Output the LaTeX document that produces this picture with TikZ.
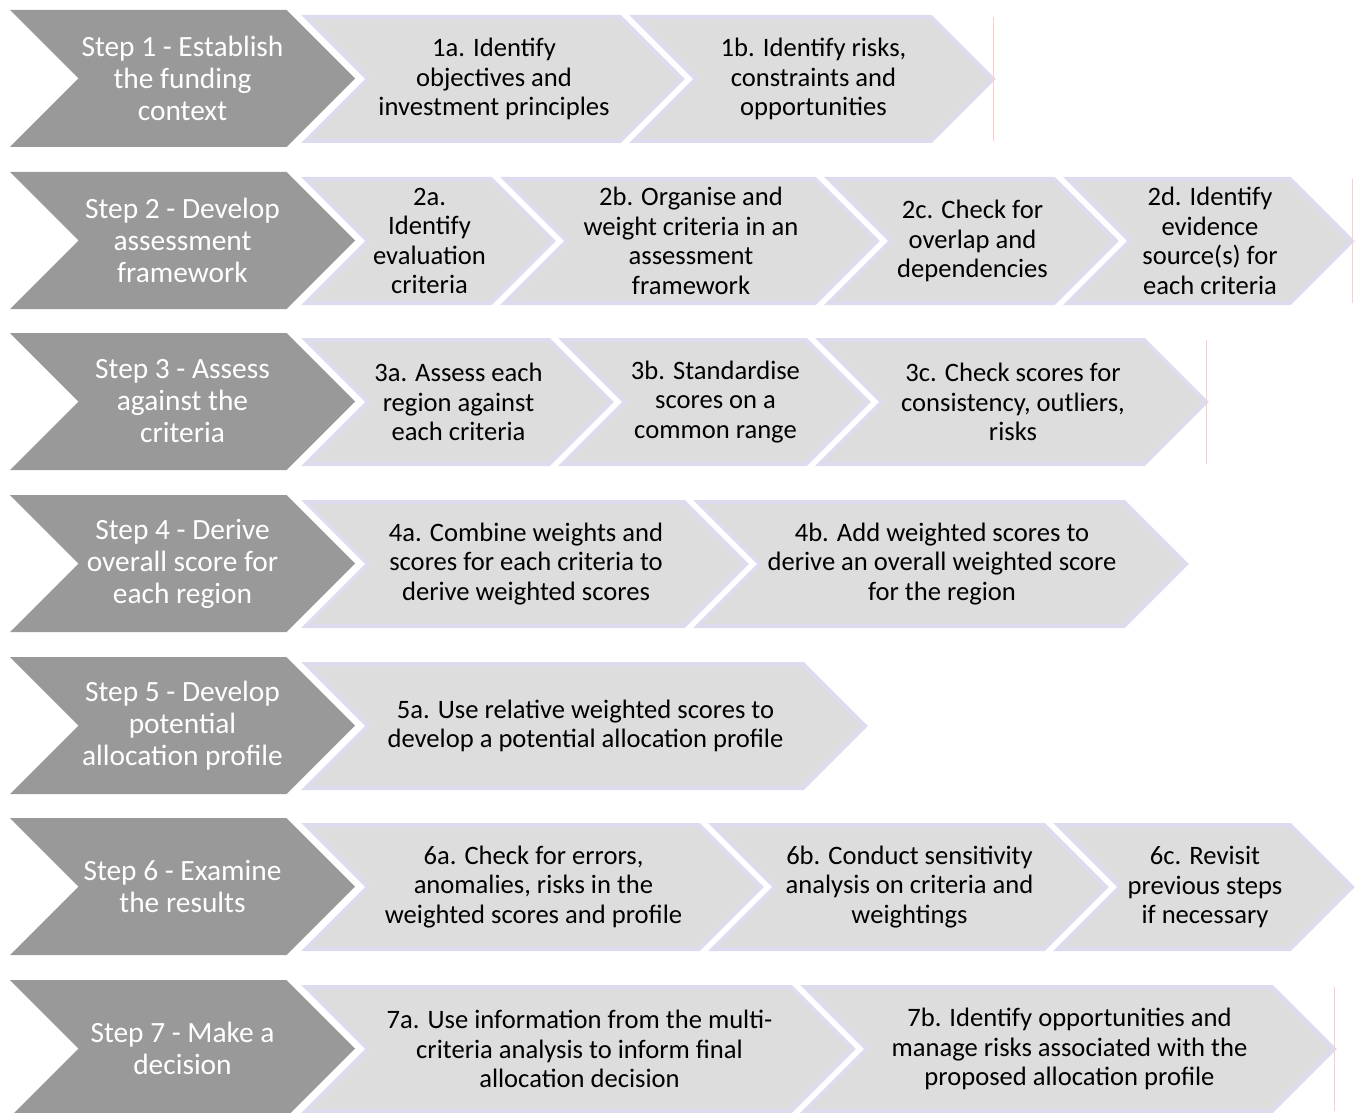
\documentclass[tikz,border=0pt]{standalone}
\usepackage{fontspec}
\setmainfont{Carlito}
\usetikzlibrary{positioning}
\definecolor{StepGray}{HTML}{999999}
\definecolor{TaskGray}{HTML}{DDDDDD}
\definecolor{TaskEdge}{HTML}{DCDCEE}
\definecolor{GuidePink}{HTML}{FFCCCC}

% chevron: shape style, text style, name, left x, tip x, top y, height, text
\newcommand{\chevron}[8]{%
  \path[#1] (#4,#6) -- ({#5-#7/2},#6) -- (#5,{#6+#7/2}) -- ({#5-#7/2},{#6+#7})
    -- (#4,{#6+#7}) -- ({#4+#7/2},{#6+#7/2}) -- cycle;
  \node[#2] (#3) at ({(#4+#5)/2},{#6+#7/2}) {#8};}

\begin{document}
\begin{tikzpicture}[x=0.5pt, y=-0.5pt,
    stepshape/.style={fill=StepGray},
    taskshape/.style={fill=TaskGray, draw=TaskEdge, line width=2pt},
    steptext/.style={text=white, align=center, inner sep=0pt,
      font=\fontsize{14.7}{16}\selectfont},
    tasktext/.style={text=black, align=center, inner sep=0pt,
      font=\fontsize{13.3}{14.75}\selectfont},
    guide/.style={draw=GuidePink, line width=0.5pt}
  ]
    \useasboundingbox (0,0) rectangle (1356,1113);

    % step 1
    \chevron{stepshape}{steptext}{s1}{10}{355}{10}{137}{Step 1 - Establish\\the funding\\context}
    \chevron{taskshape}{tasktext}{t1a}{306}{682}{17}{124}{1a. Identify\\objectives and\\investment principles}
    \chevron{taskshape}{tasktext}{t1b}{634}{993}{17}{124}{1b. Identify risks,\\constraints and\\opportunities}
    \draw[guide] (993,17) -- (993,141);

    % step 2
    \chevron{stepshape}{steptext}{s2}{10}{355}{172}{137}{Step 2 - Develop\\assessment\\framework}
    \chevron{taskshape}{tasktext}{t2a}{306}{553}{179}{124}{2a.\\Identify\\evaluation\\criteria}
    \chevron{taskshape}{tasktext}{t2b}{505}{877}{179}{124}{2b. Organise and\\weight criteria in an\\assessment\\framework}
    \chevron{taskshape}{tasktext}{t2c}{829}{1116}{179}{124}{2c. Check for\\overlap and\\dependencies}
    \chevron{taskshape}{tasktext}{t2d}{1068}{1352}{179}{124}{2d. Identify\\evidence\\source(s) for\\each criteria}
    \draw[guide] (1352,179) -- (1352,303);

    % step 3
    \chevron{stepshape}{steptext}{s3}{10}{355}{333}{137}{Step 3 - Assess\\against the\\criteria}
    \chevron{taskshape}{tasktext}{t3a}{306}{611}{340}{124}{3a. Assess each\\region against\\each criteria}
    \chevron{taskshape}{tasktext}{t3b}{563}{868}{340}{124}{3b. Standardise\\scores on a\\common range}
    \chevron{taskshape}{tasktext}{t3c}{820}{1206}{340}{124}{3c. Check scores for\\consistency, outliers,\\risks}
    \draw[guide] (1206,340) -- (1206,464);

    % step 4
    \chevron{stepshape}{steptext}{s4}{10}{355}{495}{137}{Step 4 - Derive\\overall score for\\each region}
    \chevron{taskshape}{tasktext}{t4a}{306}{746}{502}{124}{4a. Combine weights and\\scores for each criteria to\\derive weighted scores}
    \chevron{taskshape}{tasktext}{t4b}{698}{1186}{502}{124}{4b. Add weighted scores to\\derive an overall weighted score\\for the region}

    % step 5
    \chevron{stepshape}{steptext}{s5}{10}{355}{657}{137}{Step 5 - Develop\\potential\\allocation profile}
    \chevron{taskshape}{tasktext}{t5a}{306}{865}{664}{124}{5a. Use relative weighted scores to\\develop a potential allocation profile}

    % step 6
    \chevron{stepshape}{steptext}{s6}{10}{355}{818}{137}{Step 6 - Examine\\the results}
    \chevron{taskshape}{tasktext}{t6a}{306}{761}{825}{124}{6a. Check for errors,\\anomalies, risks in the\\weighted scores and profile}
    \chevron{taskshape}{tasktext}{t6b}{713}{1106}{825}{124}{6b. Conduct sensitivity\\analysis on criteria and\\weightings}
    \chevron{taskshape}{tasktext}{t6c}{1058}{1352}{825}{124}{6c. Revisit\\previous steps\\if necessary}

    % step 7
    \chevron{stepshape}{steptext}{s7}{10}{355}{980}{137}{Step 7 - Make a\\decision}
    \chevron{taskshape}{tasktext}{t7a}{306}{853}{987}{124}{7a. Use information from the multi-\\criteria analysis to inform final\\allocation decision}
    \chevron{taskshape}{tasktext}{t7b}{805}{1334}{987}{124}{7b. Identify opportunities and\\manage risks associated with the\\proposed allocation profile}
    \draw[guide] (1334,987) -- (1334,1111);
  \end{tikzpicture}
\end{document}
